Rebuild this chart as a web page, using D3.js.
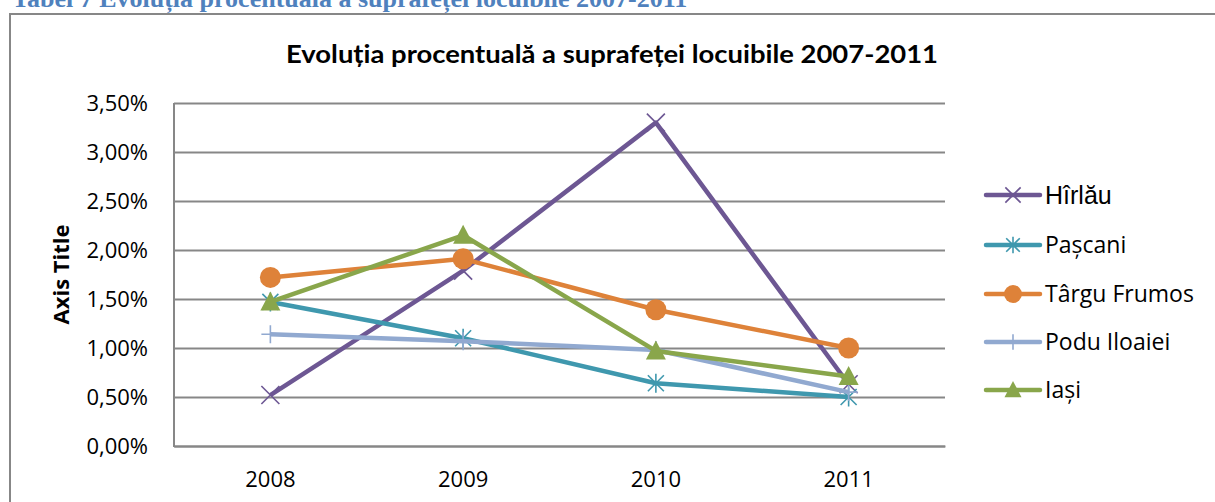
<!DOCTYPE html>
<html><head><meta charset="utf-8">
<script src="https://cdn.jsdelivr.net/npm/d3@7"></script>
<style>body{margin:0;background:#fff;}svg{display:block;}</style>
</head><body>
<svg id="c" width="1215" height="502"></svg>
<script>
const years = ["2008","2009","2010","2011"];
const seriesNames = ["Hîrlău","Pașcani","Târgu Frumos","Podu Iloaiei","Iași"];
const hirlau = [0.52, 1.79, 3.30, 0.63];
const pascani = [1.47, 1.10, 0.64, 0.50];
const targuFrumos = [1.72, 1.91, 1.39, 1.00];
const poduIloaiei = [1.14, 1.07, 0.98, 0.55];
const iasi = [1.47, 2.15, 0.97, 0.71];
const yTicks = [0, 0.5, 1.0, 1.5, 2.0, 2.5, 3.0, 3.5];
const colors = ["#6d5793","#3f98ae","#de8239","#91a9d0","#89a64b"];
const markers = ["x","star","circle","plus","triangle"];
const data = [hirlau, pascani, targuFrumos, poduIloaiei, iasi];

const svg = d3.select("#c");
const L = 174, R = 945, T = 103, B = 446;
const x = d3.scaleBand().domain(years).range([L, R]);
const y = d3.scaleLinear().domain([0, 3.5]).range([B, T]);
const fmt = v => v.toFixed(2).replace(".", ",") + "%";
const FONT = "Open Sans";

// header text (cut off at top in the reference)
svg.append("text").attr("x", 12).attr("y", 7)
  .attr("font-family", "Liberation Serif").attr("font-weight", "bold")
  .attr("font-size", 26).attr("fill", "#4f81bd")
  .text("Tabel 7 Evoluția procentuală a suprafeței locuibile 2007-2011");

// outer chart border
svg.append("path").attr("d", `M10,502 L10,14 L1216,14`)
  .attr("fill", "none").attr("stroke", "#878787").attr("stroke-width", 2);

// title
svg.append("text").attr("x", 612).attr("y", 63).attr("text-anchor", "middle")
  .attr("font-family", "Lato").attr("font-weight", "bold")
  .attr("font-size", 24).attr("fill", "#000")
  .attr("textLength", 652).attr("lengthAdjust", "spacingAndGlyphs")
  .text("Evoluția procentuală a suprafeței locuibile 2007-2011");

// y axis with gridlines
const yAxis = svg.append("g").attr("transform", `translate(${L},0)`)
  .call(d3.axisLeft(y).tickValues(yTicks).tickFormat(fmt).tickSize(-(R - L)).tickPadding(26));
yAxis.select(".domain").remove();
yAxis.selectAll(".tick line").attr("stroke", "#878787").attr("stroke-width", 2);
yAxis.selectAll(".tick text").attr("font-family", FONT).attr("font-size", 22).attr("fill", "#000");

// left axis line
svg.append("line").attr("x1", L).attr("x2", L).attr("y1", T).attr("y2", B + 1)
  .attr("stroke", "#878787").attr("stroke-width", 2);

// x axis
const xAxis = svg.append("g").attr("transform", `translate(0,${B})`)
  .call(d3.axisBottom(x).tickSize(0).tickPadding(25));
xAxis.select(".domain").attr("stroke", "#878787").attr("stroke-width", 2);
xAxis.selectAll(".tick text").attr("font-family", FONT).attr("font-size", 22).attr("fill", "#000");

// axis title
svg.append("text").attr("transform", `translate(69,${(T + B) / 2}) rotate(-90)`)
  .attr("text-anchor", "middle").attr("font-family", FONT).attr("font-weight", "bold")
  .attr("font-size", 22).attr("fill", "#000").text("Axis Title");

function drawMarker(g, type, cx, cy, color, s) {
  s = s || 1;
  if (type === "x") {
    const r = 9 * s;
    g.append("path").attr("d", `M${cx-r},${cy-r}L${cx+r},${cy+r}M${cx-r},${cy+r}L${cx+r},${cy-r}`)
      .attr("stroke", color).attr("stroke-width", 1.6).attr("fill", "none");
  } else if (type === "star") {
    const r = 8 * s;
    g.append("path").attr("d", `M${cx-r},${cy-r}L${cx+r},${cy+r}M${cx-r},${cy+r}L${cx+r},${cy-r}M${cx},${cy-r-1.5}L${cx},${cy+r+1.5}`)
      .attr("stroke", color).attr("stroke-width", 1.6).attr("fill", "none");
  } else if (type === "circle") {
    g.append("circle").attr("cx", cx).attr("cy", cy).attr("r", 10.5 * s).attr("fill", color);
  } else if (type === "plus") {
    const r = 9 * s;
    g.append("path").attr("d", `M${cx-r},${cy}L${cx+r},${cy}M${cx},${cy-r}L${cx},${cy+r}`)
      .attr("stroke", color).attr("stroke-width", 1.6).attr("fill", "none");
  } else if (type === "triangle") {
    const r = 10 * s;
    g.append("path").attr("d", `M${cx},${cy-r*1.05}L${cx+r},${cy+r*0.85}L${cx-r},${cy+r*0.85}Z`)
      .attr("fill", color);
  }
}

const line = d3.line().x((d, i) => x(years[i]) + x.bandwidth() / 2).y(d => y(d));
data.forEach((vals, si) => {
  const g = svg.append("g");
  g.append("path").datum(vals).attr("d", line).attr("fill", "none")
    .attr("stroke", colors[si]).attr("stroke-width", 4.5).attr("stroke-linejoin", "round");
  vals.forEach((v, i) => drawMarker(g, markers[si], x(years[i]) + x.bandwidth() / 2, y(v), colors[si]));
});

// legend
const legY = [195, 245, 294, 342, 390];
seriesNames.forEach((name, i) => {
  const g = svg.append("g");
  g.append("line").attr("x1", 986).attr("x2", 1040).attr("y1", legY[i]).attr("y2", legY[i])
    .attr("stroke", colors[i]).attr("stroke-width", 4.5).attr("stroke-linecap", "round");
  drawMarker(g, markers[i], 1013, legY[i], colors[i], 0.85);
  g.append("text").attr("x", 1045).attr("y", legY[i]).attr("dy", "0.36em")
    .attr("font-family", i === 0 ? "Liberation Sans" : FONT)
    .attr("font-size", i === 0 ? 25 : 23).attr("fill", "#000").text(name);
});
</script>
</body></html>
